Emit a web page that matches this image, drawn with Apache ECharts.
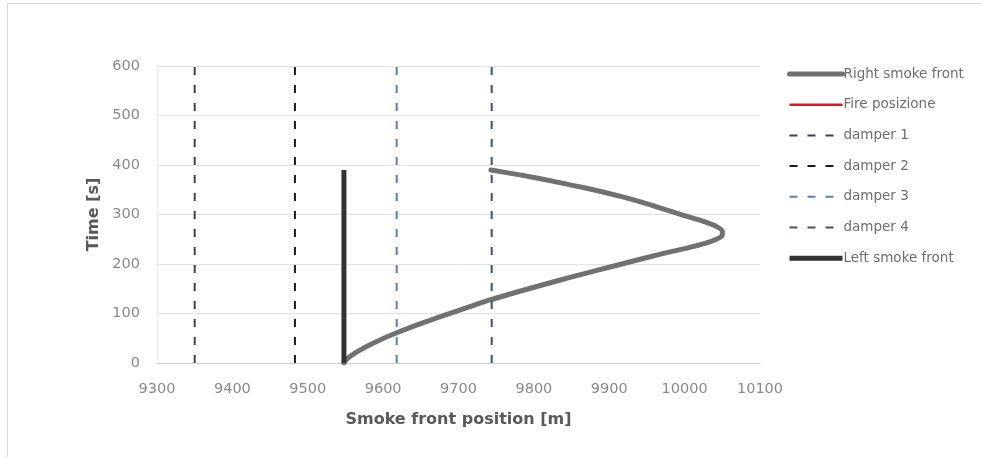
<!DOCTYPE html>
<html>
<head>
<meta charset="utf-8">
<script src="https://cdn.jsdelivr.net/npm/echarts@6/dist/echarts.min.js"></script>
<style>
html,body{margin:0;padding:0;background:#fff;}
#chart{width:981px;height:457px;}
</style>
</head>
<body>
<div id="chart"></div>
<script>
// ---- data ----
const xTicks = [9300, 9400, 9500, 9600, 9700, 9800, 9900, 10000, 10100];
const yTicks = [0, 100, 200, 300, 400, 500, 600];

const rightSmokeFront = [
  [9548, 0], [9550, 5], [9556, 13], [9568, 25], [9588, 41], [9618, 61],
  [9658, 84], [9698, 105], [9743, 128], [9798, 152], [9848, 173],
  [9914, 199], [9968, 220], [10003, 232], [10026, 241], [10042, 250],
  [10050, 258], [10050, 266], [10042, 276], [10025, 286], [10003, 296],
  [9960, 317], [9914, 337], [9870, 353], [9826, 367], [9785, 379], [9743, 390]
];
const firePosizione = [[9745, 128], [9765, 137]];
const damper1 = [[9350, 0], [9350, 600]];
const damper2 = [[9483, 0], [9483, 600]];
const damper3 = [[9618, 0], [9618, 600]];
const damper4 = [[9744, 0], [9744, 600]];
const leftSmokeFront = [[9548, 0], [9548, 390]];

const seriesNames = ['Right smoke front', 'Fire posizione', 'damper 1', 'damper 2', 'damper 3', 'damper 4', 'Left smoke front'];

// ---- chart ----
const chart = echarts.init(document.getElementById('chart'));
const FONT = '"DejaVu Sans", sans-serif';
const dash = [8, 10];

function dLine(name, data, color) {
  return {
    name, type: 'line', data, symbol: 'none', z: 3, silent: true,
    lineStyle: { color, width: 2, type: dash }, itemStyle: { color }
  };
}

chart.setOption({
  animation: false,
  backgroundColor: '#fff',
  textStyle: { fontFamily: FONT },
  grid: { left: 157, right: 221, top: 66, bottom: 94 },
  legend: {
    data: seriesNames,
    orient: 'vertical',
    left: 787, top: 67, padding: 0,
    itemWidth: 53, itemHeight: 14, itemGap: 16.7,
    itemStyle: { opacity: 0 },
    lineStyle: { width: 'inherit', type: 'inherit' },
    textStyle: { fontFamily: FONT, fontSize: 13.5, color: '#6e6e6e', padding: [0, 0, 0, -4] }
  },
  xAxis: {
    type: 'value', min: 9300, max: 10100, interval: 100,
    name: 'Smoke front position [m]', nameLocation: 'middle', nameGap: 49,
    nameTextStyle: { fontFamily: FONT, fontSize: 16, fontWeight: 'bold', color: '#595959' },
    axisLine: { show: true, lineStyle: { color: '#d0d0d0', width: 1 } },
    axisTick: { show: false },
    splitLine: { show: false },
    axisLabel: { fontFamily: FONT, fontSize: 14.5, color: '#8a8a8a', margin: 19, formatter: v => String(v) }
  },
  yAxis: {
    type: 'value', min: 0, max: 600, interval: 100,
    name: 'Time [s]', nameLocation: 'middle', nameGap: 53,
    nameTextStyle: { fontFamily: FONT, fontSize: 16, fontWeight: 'bold', color: '#595959' },
    axisLine: { show: true, lineStyle: { color: '#ececec', width: 1 } },
    axisTick: { show: false },
    splitLine: { show: true, lineStyle: { color: '#e3e3e3', width: 1 } },
    axisLabel: { fontFamily: FONT, fontSize: 14.5, color: '#8a8a8a', margin: 17, formatter: v => String(v) }
  },
  graphic: [{
    type: 'rect', silent: true, z: -10,
    shape: { x: 7.5, y: 3.5, width: 1000, height: 500 },
    style: { fill: 'none', stroke: '#d9d9d9', lineWidth: 1 }
  }],
  series: [
    {
      name: 'Fire posizione', type: 'line', data: firePosizione, symbol: 'none', z: 1,
      lineStyle: { color: '#e8141c', width: 2.5 }, itemStyle: { color: '#e8141c' }
    },
    {
      name: 'Right smoke front', type: 'line', data: rightSmokeFront, symbol: 'none', z: 2,
      smooth: 0.25,
      lineStyle: { color: '#717171', width: 5, cap: 'round', join: 'round' }, itemStyle: { color: '#717171' }
    },
    dLine('damper 1', damper1, '#3d4250'),
    dLine('damper 2', damper2, '#1c1c1c'),
    dLine('damper 3', damper3, '#5c7eb8'),
    dLine('damper 4', damper4, '#3b5174'),
    {
      name: 'Left smoke front', type: 'line', data: leftSmokeFront, symbol: 'none', z: 4,
      lineStyle: { color: '#333333', width: 5 }, itemStyle: { color: '#333333' }
    }
  ]
});
</script>
</body>
</html>
